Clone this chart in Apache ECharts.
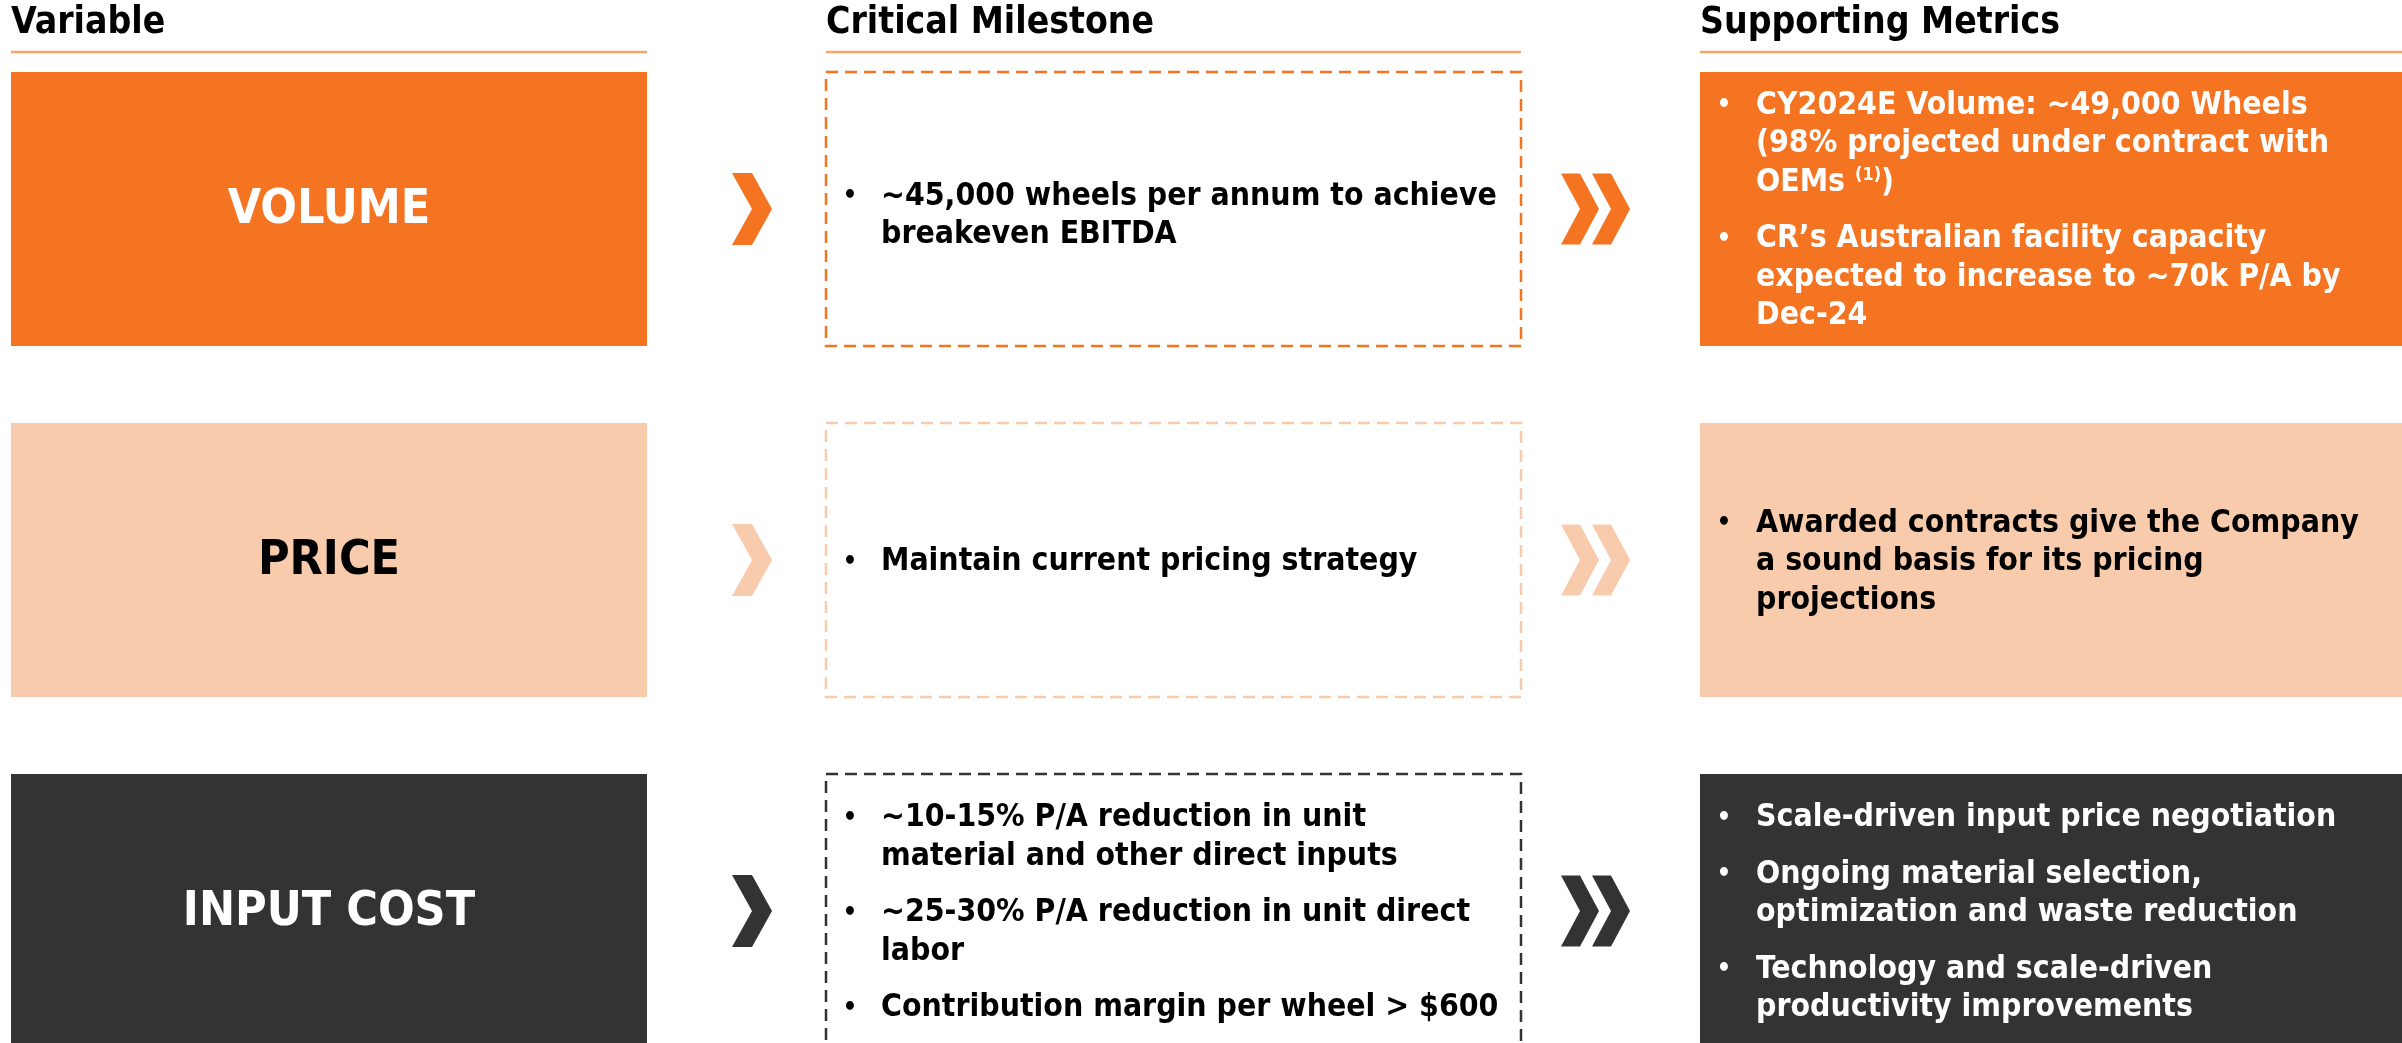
<!DOCTYPE html>
<html>
<head>
<meta charset="utf-8">
<style>html,body{margin:0;padding:0;background:#fff}#chart{width:2402px;height:1043px}</style>
<script src="https://cdn.jsdelivr.net/npm/echarts@6/dist/echarts.min.js"></script>
</head>
<body>
<div id="chart"></div>
<script>
// 表头
const headers = ['Variable', 'Critical Milestone', 'Supporting Metrics']
// 变量
const variables = ['VOLUME', 'PRICE', 'INPUT COST']
// 关键里程碑（每条按原图换行）
const milestones = [
  [['~45,000 wheels per annum to achieve', 'breakeven EBITDA']],
  [['Maintain current pricing strategy']],
  [
    ['~10-15% P/A reduction in unit', 'material and other direct inputs'],
    ['~25-30% P/A reduction in unit direct', 'labor'],
    ['Contribution margin per wheel > $600']
  ]
]
// 支撑指标
const metrics = [
  [
    ['CY2024E Volume: ~49,000 Wheels', '(98% projected under contract with', 'OEMs {sup|(1)})'],
    ['CR’s Australian facility capacity', 'expected to increase to ~70k P/A by', 'Dec-24']
  ],
  [['Awarded contracts give the Company', 'a sound basis for its pricing', 'projections']],
  [
    ['Scale-driven input price negotiation'],
    ['Ongoing material selection,', 'optimization and waste reduction'],
    ['Technology and scale-driven', 'productivity improvements']
  ]
]

const FONT = "'DejaVu Sans Condensed', 'Liberation Sans', sans-serif"
const ORANGE = '#F47421'
const PEACH = '#F8CBAD'
const DARK = '#333333'
const themes = [
  { fill: ORANGE, label: '#fff', metric: '#fff' },
  { fill: PEACH, label: '#000', metric: '#000' },
  { fill: DARK, label: '#fff', metric: '#fff' }
]
const COLS = [[11, 647], [826, 1521], [1700, 2402]]
const BOX_H = 274
const LINE_H = 38.5
const PARA_GAP = 18
const BODY_SIZE = 31.7

function chevron(x0, cy, w, h, fill) {
  const t = w / 2
  return {
    type: 'polygon',
    shape: { points: [[x0, cy - h / 2], [x0 + t, cy - h / 2], [x0 + w, cy], [x0 + t, cy + h / 2], [x0, cy + h / 2], [x0 + t, cy]] },
    style: { fill }
  }
}

function bulletList(items, xBullet, xText, cy, color) {
  const nLines = items.reduce((s, it) => s + it.length, 0)
  const total = (nLines - 1) * LINE_H + (items.length - 1) * PARA_GAP
  let y = cy - total / 2 + 2
  const els = []
  items.forEach(lines => {
    els.push({
      type: 'text',
      style: { text: '•', x: xBullet, y, fill: color, fontSize: 25, fontFamily: FONT, fontWeight: 'bold', align: 'center', verticalAlign: 'middle' }
    })
    lines.forEach(line => {
      els.push({
        type: 'text',
        style: {
          text: line, x: xText, y, fill: color, fontSize: BODY_SIZE, fontWeight: 'bold', fontFamily: FONT, verticalAlign: 'middle',
          rich: { sup: { fontSize: 18, fontWeight: 'bold', fontFamily: FONT, fill: color, verticalAlign: 'top' } }
        }
      })
      y += LINE_H
    })
    y += PARA_GAP
  })
  return els
}

function renderItem(params, api) {
  const row = api.value(0)
  const th = themes[row]
  const cy = api.coord([0, row])[1]
  const top = cy - BOX_H / 2
  const x = v => api.coord([v, row])[0]
  const [c1, c2, c3] = COLS
  const children = [
    { type: 'rect', shape: { x: x(c1[0]), y: top, width: x(c1[1]) - x(c1[0]), height: BOX_H }, style: { fill: th.fill } },
    {
      type: 'text',
      style: { text: variables[row], x: (x(c1[0]) + x(c1[1])) / 2, y: cy + 2, fill: th.label, fontSize: 48, fontWeight: 'bold', fontFamily: FONT, align: 'center', verticalAlign: 'middle' }
    },
    chevron(x(732), cy, 40, 72, th.fill),
    {
      type: 'rect',
      shape: { x: x(c2[0]), y: top, width: x(c2[1]) - x(c2[0]), height: BOX_H },
      style: { fill: '#fff', stroke: th.fill, lineWidth: 2.5, lineDash: [12, 7] }
    },
    chevron(x(1561), cy, 38, 71, th.fill),
    chevron(x(1592), cy, 38, 71, th.fill),
    { type: 'rect', shape: { x: x(c3[0]), y: top, width: x(c3[1]) - x(c3[0]), height: BOX_H }, style: { fill: th.fill } }
  ]
  bulletList(milestones[row], x(850), x(881), cy + (row === 0 ? 5 : 0), '#000').forEach(e => children.push(e))
  bulletList(metrics[row], x(1724), x(1756), cy, th.metric).forEach(e => children.push(e))
  return { type: 'group', children }
}

const headerGraphics = []
headers.forEach((h, i) => {
  headerGraphics.push({
    type: 'text', x: COLS[i][0], y: 23,
    style: { text: h, fill: '#000', fontSize: 37, fontWeight: 'bold', fontFamily: FONT, verticalAlign: 'middle' }
  })
  headerGraphics.push({
    type: 'line', shape: { x1: COLS[i][0], y1: 52, x2: COLS[i][1], y2: 52 },
    style: { stroke: '#F6A56C', lineWidth: 2.5 }
  })
})

const chart = echarts.init(document.getElementById('chart'))
chart.setOption({
  animation: false,
  backgroundColor: '#fff',
  grid: { left: 0, top: 33.5, width: 2402, height: 1053, outerBoundsMode: 'none', containLabel: false },
  xAxis: { type: 'value', min: 0, max: 2402, show: false },
  yAxis: { type: 'category', data: variables, inverse: true, show: false },
  graphic: headerGraphics,
  series: [{
    type: 'custom',
    renderItem,
    clip: false,
    encode: { y: 0 },
    data: variables.map((v, i) => [i])
  }]
})
window.addEventListener('resize', () => chart.resize())
</script>
</body>
</html>
